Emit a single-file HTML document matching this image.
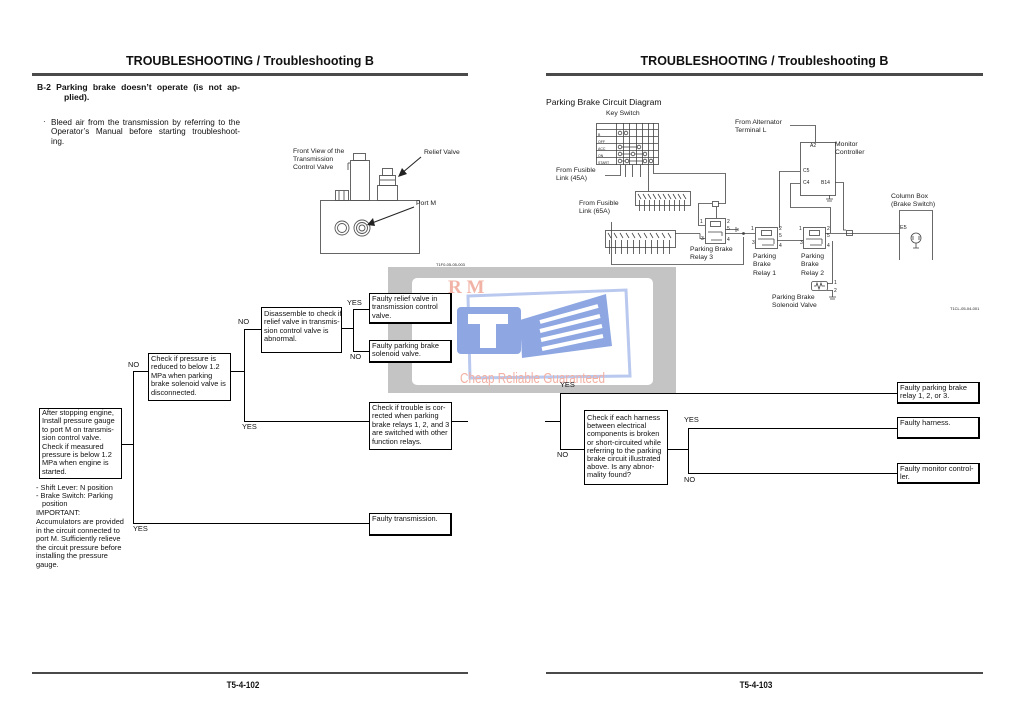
<!DOCTYPE html>
<html><head><meta charset="utf-8">
<style>
body{margin:0;width:1019px;height:724px;background:#fff;position:relative;overflow:hidden;font-family:"Liberation Sans",Arial,sans-serif;color:#111}
.a{position:absolute;white-space:nowrap}
.box{position:absolute;border:1px solid #000;background:#fff;font-size:7.4px;line-height:8.4px;padding:1px 0 0 2px;box-sizing:border-box;white-space:nowrap;z-index:3}
.fb{border-right:2px solid #000;border-bottom:2px solid #000}
.lb{position:absolute;font-size:7.4px;line-height:8px;white-space:nowrap;z-index:3}
.title{position:absolute;font-weight:bold;font-size:12.5px;text-align:center;white-space:nowrap}
.hr{position:absolute;height:3px;background:#4a4a4a}
.fr{position:absolute;height:2px;background:#4a4a4a}
.pg{position:absolute;font-weight:bold;font-size:9.5px;text-align:center;transform:scaleX(0.85)}
.c{position:absolute;font-size:6.8px;line-height:8.3px;white-space:nowrap;color:#222;z-index:3}
.j{position:absolute;text-align:justify;text-align-last:justify;white-space:nowrap}
</style></head><body>

<!-- watermark -->
<svg class="a" style="left:0;top:0;z-index:1" width="1019" height="724">
<rect x="388" y="267" width="288" height="126" fill="#c4c4c4"/>
<rect x="412" y="278" width="241" height="107" rx="5" fill="#fff"/>
<polygon points="468,296 626,290 630,376 470,378" fill="none" stroke="#b9c8ee" stroke-width="3"/>
<rect x="457" y="307" width="64" height="47" rx="4" fill="#8ea7e2"/>
<path d="M468 314h40v10h-12v24h-16v-24h-12z" fill="#fff"/>
<polygon points="520,320 606,294 612,346 522,358" fill="#8ea7e2"/>
<g stroke="#fff" stroke-width="4"><line x1="540" y1="322" x2="598" y2="306"/><line x1="540" y1="331" x2="600" y2="316"/><line x1="541" y1="340" x2="602" y2="326"/><line x1="542" y1="349" x2="603" y2="336"/></g>
<text x="448" y="293" font-family="Liberation Serif,serif" font-weight="bold" font-size="19" fill="#f1b3a6">R M</text>
<text x="460" y="383" font-family="Liberation Sans,sans-serif" font-size="15" fill="#f2b0a3" textLength="145" lengthAdjust="spacingAndGlyphs">Cheap Reliable Guaranteed</text>
</svg>

<!-- headers -->
<div class="title" style="left:32px;width:436px;top:54px">TROUBLESHOOTING / Troubleshooting B</div>
<div class="title" style="left:546px;width:437px;top:54px">TROUBLESHOOTING / Troubleshooting B</div>
<div class="hr" style="left:32px;width:436px;top:73px"></div>
<div class="hr" style="left:546px;width:437px;top:73px"></div>

<!-- footers -->
<div class="fr" style="left:32px;width:436px;top:672px"></div>
<div class="fr" style="left:546px;width:437px;top:672px"></div>
<div class="pg" style="left:200px;width:86px;top:680px">T5-4-102</div>
<div class="pg" style="left:713px;width:86px;top:680px">T5-4-103</div>

<!-- left text -->
<div class="j" style="left:37px;width:203px;top:82px;font-weight:bold;font-size:8.6px">B-2 Parking brake doesn’t operate (is not ap-</div>
<div class="a" style="left:64px;top:92px;font-weight:bold;font-size:8.6px">plied).</div>
<div class="a" style="left:43px;top:117px;font-size:8px">·</div>
<div class="j" style="left:51px;width:189px;top:118px;font-size:8.2px">Bleed air from the transmission by referring to the</div>
<div class="j" style="left:51px;width:189px;top:127px;font-size:8.2px">Operator’s Manual before starting troubleshoot-</div>
<div class="a" style="left:51px;top:137px;font-size:8.2px">ing.</div>

<!-- transmission valve -->
<svg class="a" style="left:0;top:0;z-index:2" width="1019" height="724">
<g fill="none" stroke="#555" stroke-width="0.9">
<rect x="320.5" y="200.5" width="99" height="53"/>
<rect x="350.5" y="160.5" width="19" height="40"/>
<rect x="353.5" y="153.5" width="12" height="7"/>
<line x1="348" y1="163" x2="350" y2="163"/><line x1="348" y1="163" x2="348" y2="170"/>
<rect x="335.5" y="190.5" width="13" height="10"/>
<line x1="339" y1="191" x2="339" y2="200"/><line x1="344" y1="191" x2="344" y2="200"/>
<rect x="377.5" y="185.5" width="20" height="15"/>
<rect x="379.5" y="175.5" width="16" height="10"/>
<rect x="382.5" y="168.5" width="10" height="7"/>
<line x1="380" y1="180" x2="395" y2="180"/>
<circle cx="342" cy="228" r="7"/><circle cx="342" cy="228" r="4.5"/>
<circle cx="362" cy="228" r="8"/><circle cx="362" cy="228" r="5.5"/><circle cx="362" cy="228" r="3"/>
</g>
<g stroke="#222" stroke-width="1">
<line x1="421" y1="157" x2="402" y2="173"/><line x1="414" y1="207" x2="372" y2="223"/>
</g>
<polygon points="398,177 402,168 407,174" fill="#222"/>
<polygon points="367,225 373,218 375,226" fill="#222"/>
</svg>
<div class="c" style="left:293px;top:148px;line-height:8px">Front View of the<br>Transmission<br>Control Valve</div>
<div class="c" style="left:424px;top:149px">Relief Valve</div>
<div class="c" style="left:416px;top:200px">Port M</div>
<div class="c" style="left:436px;top:261px;font-size:4px">T1F0-05-05-003</div>

<!-- flowchart lines -->
<svg class="a" style="left:0;top:0;z-index:2" width="1019" height="724">
<g stroke="#000" stroke-width="1" fill="none">
<path d="M122 444.5H133.5M133.5 371V524M133.5 371.5H148M133.5 523.5H369"/>
<path d="M231 371.5H244.5M244.5 329V422M244.5 329.5H261M244.5 421.5H369"/>
<path d="M342 328.5H353.5M353.5 309V352M353.5 309.5H369M353.5 351.5H369"/>
<path d="M452 421.5H468"/>
<path d="M545 421.5H560.5M560.5 393V450M560.5 393.5H897M560.5 449.5H584"/>
<path d="M668 449.5H688.5M688.5 428V474M688.5 428.5H897M688.5 473.5H897"/>
</g>
</svg>

<div class="box" style="left:39px;top:408px;width:83px;height:71px;padding-top:0">After stopping engine,<br>Install pressure gauge<br>to port M on transmis-<br>sion control valve.<br>Check if measured<br>pressure is below 1.2<br>MPa when engine is<br>started.</div>
<div class="lb" style="left:36px;top:484px">- Shift Lever: N position</div>
<div class="lb" style="left:36px;top:492px">- Brake Switch: Parking</div>
<div class="lb" style="left:42px;top:500px">position</div>
<div class="lb" style="left:36px;top:508.5px">IMPORTANT:</div>
<div class="lb" style="left:36px;top:518px">Accumulators are provided</div>
<div class="lb" style="left:36px;top:526.5px">in the circuit connected to</div>
<div class="lb" style="left:36px;top:535px">port M. Sufficiently relieve</div>
<div class="lb" style="left:36px;top:543.5px">the circuit pressure before</div>
<div class="lb" style="left:36px;top:552px">installing the pressure</div>
<div class="lb" style="left:36px;top:561px">gauge.</div>

<div class="box" style="left:148px;top:353px;width:83px;height:48px">Check if pressure is<br>reduced to below 1.2<br>MPa when parking<br>brake solenoid valve is<br>disconnected.</div>
<div class="box" style="left:261px;top:307px;width:81px;height:46px;padding-top:2px">Disassemble to check if<br>relief valve in transmis-<br>sion control valve is<br>abnormal.</div>
<div class="box fb" style="left:369px;top:293px;width:83px;height:31px">Faulty relief valve in<br>transmission control<br>valve.</div>
<div class="box fb" style="left:369px;top:340px;width:83px;height:23px">Faulty parking brake<br>solenoid valve.</div>
<div class="box" style="left:369px;top:402px;width:83px;height:48px">Check if trouble is cor-<br>rected when parking<br>brake relays 1, 2, and 3<br>are switched with other<br>function relays.</div>
<div class="box fb" style="left:369px;top:513px;width:83px;height:23px">Faulty transmission.</div>

<div class="lb" style="left:128px;top:361px">NO</div>
<div class="lb" style="left:133px;top:525px">YES</div>
<div class="lb" style="left:238px;top:318px">NO</div>
<div class="lb" style="left:242px;top:423px">YES</div>
<div class="lb" style="left:347px;top:299px">YES</div>
<div class="lb" style="left:350px;top:353px">NO</div>

<!-- right flowchart -->
<div class="box fb" style="left:897px;top:382px;width:83px;height:22px">Faulty parking brake<br>relay 1, 2, or 3.</div>
<div class="box" style="left:584px;top:410px;width:84px;height:75px;padding-top:3px;line-height:8.2px">Check if each harness<br>between electrical<br>components is broken<br>or short-circuited while<br>referring to the parking<br>brake circuit illustrated<br>above. Is any abnor-<br>mality found?</div>
<div class="box fb" style="left:897px;top:417px;width:83px;height:22px">Faulty harness.</div>
<div class="box fb" style="left:897px;top:463px;width:83px;height:21px">Faulty monitor control-<br>ler.</div>
<div class="lb" style="left:560px;top:381px">YES</div>
<div class="lb" style="left:557px;top:451px">NO</div>
<div class="lb" style="left:684px;top:416px">YES</div>
<div class="lb" style="left:684px;top:476px">NO</div>

<!-- circuit diagram -->
<div class="a" style="left:546px;top:97px;font-size:8.6px">Parking Brake Circuit Diagram</div>
<svg class="a" style="left:0;top:0;z-index:2" width="1019" height="724">
<g fill="none" stroke="#444" stroke-width="0.8">
<rect x="596.5" y="123.5" width="62" height="41"/>
<path d="M596 129.5H658M596 136.5H658M596 143.5H658M596 150.5H658M596 157.5H658"/>
<path d="M616.5 123V165M623.5 123V165M629.5 123V165M636.5 123V165M642.5 123V165M648.5 123V165M653.5 123V165"/>
<circle cx="620" cy="133" r="1.8"/><circle cx="626" cy="133" r="1.8"/>
<circle cx="620" cy="147" r="1.8"/><circle cx="639" cy="147" r="1.8"/><path d="M622 147H637"/>
<circle cx="620" cy="154" r="1.8"/><circle cx="633" cy="154" r="1.8"/><circle cx="645" cy="154" r="1.8"/><path d="M622 154H631M635 154H643"/>
<circle cx="620" cy="161" r="1.8"/><circle cx="627" cy="161" r="1.8"/><circle cx="645" cy="161" r="1.8"/><circle cx="651" cy="161" r="1.8"/><path d="M622 161H625M629 161H643"/>
<path d="M605 175.5H620.5V165M625.5 165V177M632.5 165V177M640.5 165V177M648.5 165V191"/>
<path d="M653.5 165V173.5H725.5V203.5H718M712 203.5H698.5V225.5H705"/>
<rect x="712.5" y="201.5" width="6" height="5"/>
<path d="M716.5 207V218"/>
<rect x="635.5" y="191.5" width="55" height="14"/>
<path d="M638 194l3 5M643 194l3 5M648 194l3 5M653 194l3 5M658 194l3 5M663 194l3 5M668 194l3 5M673 194l3 5M678 194l3 5M683 194l3 5"/>
<path d="M639.5 200V211M644.5 200V211M649.5 200V211M654.5 200V211M659.5 200V211M664.5 200V211M669.5 200V211M674.5 200V211M679.5 200V211M684.5 200V211"/>
<rect x="605.5" y="230.5" width="70" height="17"/>
<path d="M608 233l3 5M614 233l3 5M620 233l3 5M626 233l3 5M632 233l3 5M638 233l3 5M644 233l3 5M650 233l3 5M656 233l3 5M662 233l3 5M668 233l3 5"/>
<path d="M609.5 240V254M615.5 240V254M621.5 240V254M627.5 240V254M633.5 240V254M639.5 240V254M645.5 240V254M651.5 240V254M657.5 240V254M663.5 240V254M669.5 240V254"/>
<path d="M611.5 222V264.5H743.5V237"/>
<path d="M675 233.5H700M700 233.5V238.5H705"/>
<rect x="705.5" y="218.5" width="20" height="25"/>
<rect x="710.5" y="221.5" width="10" height="5"/>
<path d="M708 232H722M722 232V236M711 240H722"/>
<path d="M725 229.5H738M736 227V232M738 228V231"/>
<path d="M725 233.5H755"/>
<circle cx="743.5" cy="233.5" r="1" fill="#444"/>
<rect x="755.5" y="227.5" width="22" height="21"/>
<rect x="761.5" y="230.5" width="10" height="5"/>
<path d="M758 239H774M774 239V244M762 245H774"/>
<path d="M777 240.5H803"/>
<path d="M779.5 228V171.5H800"/>
<rect x="803.5" y="227.5" width="22" height="21"/>
<rect x="809.5" y="230.5" width="10" height="5"/>
<path d="M806 239H822M822 239V244M810 245H822"/>
<path d="M825 233.5H900"/>
<path d="M800 183.5H790.5V207.5H830.5V233"/>
<path d="M835 182.5H843.5V230H846"/>
<rect x="846.5" y="230.5" width="6" height="5"/>
<path d="M832.5 241V283.5H827M832.5 290.5H827M832.5 290V297M829 297H836M830 299H835"/>
<rect x="811.5" y="281.5" width="16" height="9" rx="2"/>
<path d="M814 286h2l1-3 2 6 2-6 1 3h3"/>
<rect x="800.5" y="142.5" width="35" height="53"/>
<path d="M829.5 195V199M826 199H833M827 201H832"/>
<path d="M790 125.5H815.5V142"/>
<path d="M899.5 260V210.5H932.5V260"/>
<circle cx="916" cy="238" r="5"/>
<path d="M913 236v4M919 236v4M916 243V248M913 248H919"/>
</g>
</svg>
<div class="c" style="left:606px;top:110px">Key Switch</div>
<div class="c" style="left:556px;top:167px">From Fusible<br>Link (45A)</div>
<div class="c" style="left:579px;top:200px">From Fusible<br>Link (65A)</div>
<div class="c" style="left:735px;top:119px">From Alternator<br>Terminal L</div>
<div class="c" style="left:835px;top:141px">Monitor<br>Controller</div>
<div class="c" style="left:891px;top:193px">Column Box<br>(Brake Switch)</div>
<div class="c" style="left:690px;top:246px">Parking Brake<br>Relay 3</div>
<div class="c" style="left:753px;top:253px">Parking<br>Brake<br>Relay 1</div>
<div class="c" style="left:801px;top:253px">Parking<br>Brake<br>Relay 2</div>
<div class="c" style="left:772px;top:294px">Parking Brake<br>Solenoid Valve</div>
<div class="c" style="left:810px;top:142px;font-size:5px">A2</div>
<div class="c" style="left:803px;top:167px;font-size:5px">C5</div>
<div class="c" style="left:803px;top:179px;font-size:5px">C4</div>
<div class="c" style="left:821px;top:179px;font-size:5px">B14</div>
<div class="c" style="left:900px;top:224px;font-size:5.5px">E5</div>
<div class="c" style="left:700px;top:218px;font-size:5px">1</div>
<div class="c" style="left:727px;top:218px;font-size:5px">2</div>
<div class="c" style="left:727px;top:225px;font-size:5px">5</div>
<div class="c" style="left:701px;top:235px;font-size:5px">3</div>
<div class="c" style="left:727px;top:236px;font-size:5px">4</div>
<div class="c" style="left:751px;top:225px;font-size:5px">1</div>
<div class="c" style="left:779px;top:225px;font-size:5px">2</div>
<div class="c" style="left:779px;top:232px;font-size:5px">5</div>
<div class="c" style="left:752px;top:239px;font-size:5px">3</div>
<div class="c" style="left:779px;top:242px;font-size:5px">4</div>
<div class="c" style="left:799px;top:225px;font-size:5px">1</div>
<div class="c" style="left:827px;top:225px;font-size:5px">2</div>
<div class="c" style="left:827px;top:232px;font-size:5px">5</div>
<div class="c" style="left:800px;top:239px;font-size:5px">3</div>
<div class="c" style="left:827px;top:242px;font-size:5px">4</div>
<div class="c" style="left:834px;top:279px;font-size:5px">1</div>
<div class="c" style="left:834px;top:287px;font-size:5px">2</div>
<div class="c" style="left:950px;top:305px;font-size:4px">T1CL-05-04-001</div>
<div class="c" style="left:598px;top:125px;font-size:3.5px;line-height:7px">&nbsp;<br>B<br>OFF<br>ACC<br>ON<br>START</div>

</body></html>
